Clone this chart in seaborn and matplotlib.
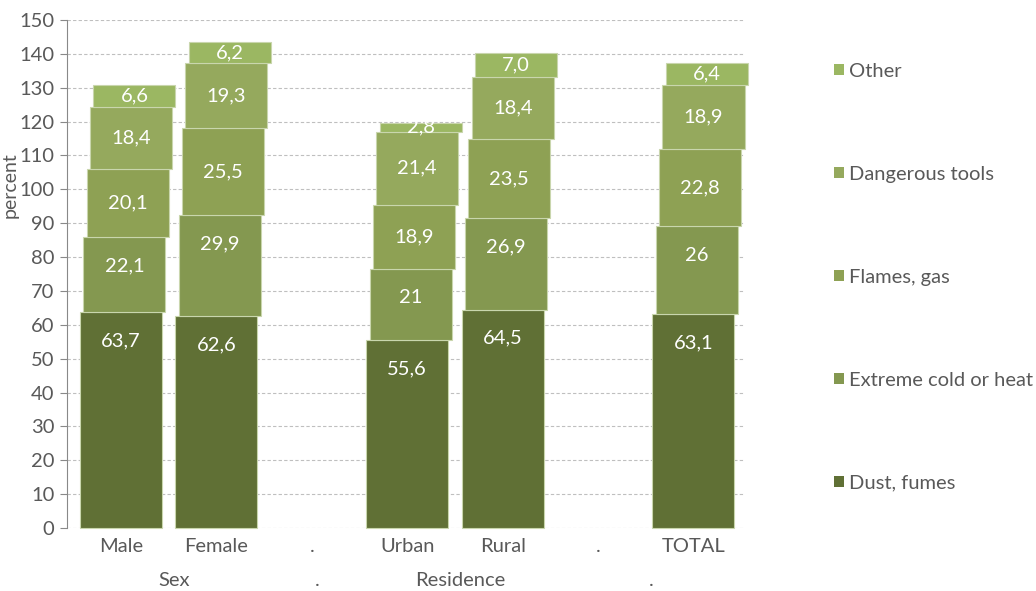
import numpy as np
import pandas as pd
import matplotlib
matplotlib.use("Agg")
import matplotlib.pyplot as plt
import seaborn as sns
from matplotlib.patches import Patch
from matplotlib.transforms import blended_transform_factory

# Categories on the x axis (dots are empty spacer slots)
categories = ["Male", "Female", ".", "Urban", "Rural", ".", "TOTAL"]
bar_cats = ["Male", "Female", "Urban", "Rural", "TOTAL"]
group_names = ["Sex", ".", "Residence", "."]
group_slots = [[0, 1], [2], [3, 4], [5, 6]]

# Values as printed on the chart (comma decimals)
series_names = ["Dust, fumes", "Extreme cold or heat", "Flames, gas", "Dangerous tools", "Other"]
dust = ["63,7", "62,6", "55,6", "64,5", "63,1"]
extreme = ["22,1", "29,9", "21", "26,9", "26"]
flames = ["20,1", "25,5", "18,9", "23,5", "22,8"]
dangerous = ["18,4", "19,3", "21,4", "18,4", "18,9"]
other = ["6,6", "6,2", "2,8", "7,0", "6,4"]
series = [dust, extreme, flames, dangerous, other]

colors = ["#607035", "#849850", "#8ea154", "#95a95d", "#9bb762"]
text_gray = "#595959"
fs = 14.5

sns.set_style("white")
plt.rcParams["font.family"] = ["Lato", "DejaVu Sans"]

fig = plt.figure(figsize=(10.36, 5.91), dpi=100)
ax = fig.add_axes([0.0647, 0.1066, 0.6544, 0.8596])

xpos = np.array([categories.index(c) for c in bar_cats], dtype=float)

shift = 0.035  # pseudo-3D step between stacked layers
bottom = np.zeros(len(bar_cats))
for i, (name, vals) in enumerate(zip(series_names, series)):
    v = np.array([float(s.replace(",", ".")) for s in vals])
    df = pd.DataFrame({"x": xpos + i * shift, "y": v})
    sns.barplot(data=df, x="x", y="y", native_scale=True, width=0.86,
                color=colors[i], saturation=1, errorbar=None, bottom=bottom,
                edgecolor="#c9d6ad", linewidth=0.8, ax=ax, zorder=2, clip_on=False)
    top = bottom + v
    if i < 2:
        ly = top - 8.5
    else:
        ly = bottom + v / 2
    for x, y, s in zip(xpos + i * shift, ly, vals):
        ax.text(x, y, s, color="white", fontsize=fs, ha="center", va="center", zorder=5)
    bottom = top

ax.set_xlim(-0.566, 6.54)
ax.set_ylim(0, 150)
ax.set_yticks(np.arange(0, 151, 10))
ax.set_xticks(range(len(categories)))
ax.set_xticklabels(categories)
ax.tick_params(axis="x", length=0, pad=7, labelsize=fs, labelcolor=text_gray)
ax.tick_params(axis="y", length=5, width=0.8, color="#898989", direction="out",
               left=True, pad=4, labelsize=fs, labelcolor=text_gray)
ax.yaxis.grid(True, linestyle=(0, (3, 2)), color="#bfbfbf", linewidth=0.8, zorder=0)
ax.set_axisbelow(True)
for side in ["top", "right", "bottom"]:
    ax.spines[side].set_visible(False)
ax.spines["left"].set_color("#898989")
ax.spines["left"].set_linewidth(0.8)

ax.set_xlabel("")
ax.set_ylabel("percent", fontsize=14, color=text_gray)
ax.yaxis.set_label_coords(-0.071, 0.675)

# second row: group labels
trans = blended_transform_factory(ax.transData, ax.transAxes)
for gname, slots in zip(group_names, group_slots):
    center = np.mean(slots)
    ax.text(center + 0.06, -0.104, gname, transform=trans, ha="center", va="center",
            fontsize=fs, color=text_gray)

handles = [Patch(facecolor=c, edgecolor="none", label=n) for n, c in zip(series_names, colors)][::-1]
fig.legend(handles=handles, loc="center left", bbox_to_anchor=(834 / 1036, 0.531),
           frameon=False, borderpad=0, borderaxespad=0, handletextpad=0.25,
           handlelength=0.5, handleheight=0.5, labelspacing=4.27,
           fontsize=fs, labelcolor=text_gray)

fig.savefig("out.png", dpi=100)
